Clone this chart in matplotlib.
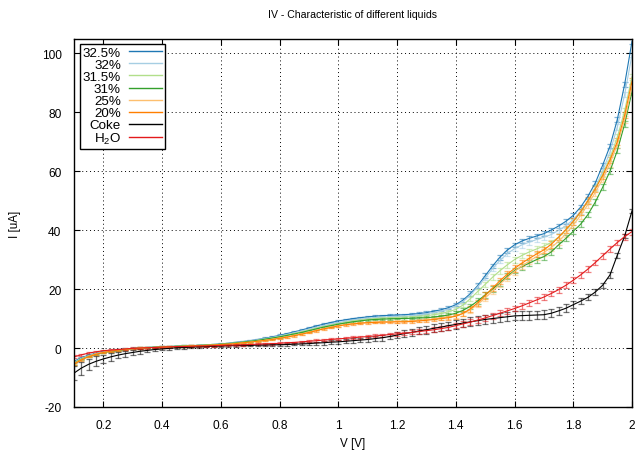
import numpy as np
import matplotlib
matplotlib.use("Agg")
import matplotlib.pyplot as plt
from matplotlib.lines import Line2D
from matplotlib.colors import to_rgba

plt.rcParams["font.family"] = ["Liberation Sans", "DejaVu Sans"]
plt.rcParams["mathtext.fontset"] = "custom"
plt.rcParams["mathtext.rm"] = "Liberation Sans"
plt.rcParams["mathtext.default"] = "regular"
plt.rcParams["axes.unicode_minus"] = False

# Voltage sweep: 0.1 V .. 2.0 V in 25 mV steps (77 points)
voltage = np.round(np.arange(0.1, 2.0 + 1e-9, 0.025), 3)

# Measured current [uA] and its uncertainty, one row per 0.2 V
cur_325 = [-4.5, -3.3, -2.4, -1.8, -1.3, -0.9, -0.6, -0.3,
           -0.1, 0.1, 0.2, 0.3, 0.4, 0.5, 0.6, 0.7,
           0.8, 0.9, 1.0, 1.2, 1.4, 1.6, 1.9, 2.2,
           2.5, 2.9, 3.3, 3.8, 4.3, 4.9, 5.5, 6.1,
           6.8, 7.5, 8.1, 8.7, 9.2, 9.6, 10.0, 10.3,
           10.6, 10.8, 11.0, 11.1, 11.2, 11.3, 11.5, 11.7,
           12.0, 12.5, 13.0, 13.7, 14.7, 16.3, 18.5, 21.2,
           24.5, 27.8, 30.8, 33.2, 35.0, 36.3, 37.2, 38.0,
           38.8, 40.0, 41.4, 43.0, 45.0, 47.8, 51.5, 56.0,
           62.0, 68.5, 77.5, 89.5, 104.0]
err_325 = [0.4, 0.3, 0.3, 0.2, 0.2, 0.2, 0.2, 0.2,
           0.2, 0.2, 0.2, 0.2, 0.2, 0.2, 0.2, 0.2,
           0.2, 0.2, 0.2, 0.2, 0.2, 0.2, 0.2, 0.2,
           0.2, 0.2, 0.3, 0.3, 0.3, 0.3, 0.3, 0.3,
           0.3, 0.3, 0.3, 0.3, 0.3, 0.3, 0.3, 0.3,
           0.3, 0.3, 0.3, 0.3, 0.3, 0.4, 0.4, 0.4,
           0.4, 0.4, 0.5, 0.5, 0.6, 0.6, 0.7, 0.7,
           0.8, 0.8, 0.8, 0.8, 0.8, 0.8, 0.8, 0.8,
           0.8, 0.8, 0.8, 0.8, 0.8, 0.8, 0.8, 0.8,
           0.8, 0.8, 0.8, 0.8, 0.8]

cur_32 = [-4.8, -3.5, -2.6, -1.9, -1.4, -1.0, -0.7, -0.4,
          -0.2, 0.0, 0.2, 0.3, 0.4, 0.5, 0.6, 0.7,
          0.8, 0.9, 1.0, 1.1, 1.3, 1.5, 1.8, 2.1,
          2.4, 2.8, 3.2, 3.6, 4.1, 4.6, 5.2, 5.8,
          6.4, 7.0, 7.6, 8.2, 8.7, 9.1, 9.5, 9.8,
          10.1, 10.3, 10.5, 10.6, 10.7, 10.8, 11.0, 11.2,
          11.6, 12.0, 12.5, 13.2, 14.2, 15.8, 18.0, 20.8,
          23.8, 26.9, 29.7, 32.0, 33.7, 35.0, 35.9, 36.8,
          37.6, 38.5, 39.9, 41.5, 43.6, 46.4, 50.0, 54.5,
          60.0, 66.5, 75.0, 86.0, 99.5]
err_32 = [0.4, 0.3, 0.3, 0.2, 0.2, 0.2, 0.2, 0.2,
          0.2, 0.2, 0.2, 0.2, 0.2, 0.2, 0.2, 0.2,
          0.2, 0.2, 0.2, 0.2, 0.2, 0.2, 0.2, 0.2,
          0.2, 0.2, 0.3, 0.3, 0.3, 0.3, 0.3, 0.3,
          0.3, 0.3, 0.3, 0.3, 0.3, 0.3, 0.3, 0.3,
          0.3, 0.3, 0.3, 0.3, 0.3, 0.4, 0.4, 0.4,
          0.4, 0.4, 0.5, 0.5, 0.6, 0.7, 0.7, 0.8,
          0.8, 0.9, 0.9, 0.9, 0.9, 0.9, 0.9, 0.9,
          0.9, 0.9, 0.9, 0.9, 0.9, 0.9, 0.9, 0.9,
          0.9, 0.9, 0.9, 0.9, 0.9]

cur_315 = [-5.0, -3.7, -2.7, -2.0, -1.5, -1.1, -0.7, -0.4,
           -0.2, 0.0, 0.2, 0.3, 0.4, 0.5, 0.6, 0.7,
           0.8, 0.9, 1.0, 1.1, 1.3, 1.5, 1.7, 2.0,
           2.3, 2.6, 3.0, 3.4, 3.9, 4.4, 4.9, 5.5,
           6.1, 6.7, 7.3, 7.8, 8.3, 8.8, 9.2, 9.5,
           9.8, 10.0, 10.2, 10.3, 10.4, 10.5, 10.6, 10.8,
           11.0, 11.3, 11.7, 12.3, 13.1, 14.6, 16.8, 19.2,
           21.6, 24.0, 26.2, 28.2, 30.0, 31.4, 32.6, 33.6,
           34.6, 35.8, 37.6, 40.0, 42.8, 46.0, 49.8, 54.2,
           59.0, 64.5, 71.5, 80.5, 92.0]
err_315 = [0.4, 0.3, 0.3, 0.3, 0.2, 0.2, 0.2, 0.2,
           0.2, 0.2, 0.2, 0.2, 0.2, 0.2, 0.2, 0.2,
           0.2, 0.2, 0.2, 0.2, 0.2, 0.2, 0.2, 0.2,
           0.2, 0.2, 0.3, 0.3, 0.3, 0.3, 0.3, 0.3,
           0.3, 0.3, 0.3, 0.3, 0.3, 0.3, 0.3, 0.3,
           0.3, 0.3, 0.3, 0.3, 0.3, 0.4, 0.4, 0.4,
           0.4, 0.5, 0.5, 0.6, 0.7, 0.7, 0.8, 0.9,
           0.9, 1.0, 1.0, 1.0, 1.0, 1.0, 1.0, 1.0,
           1.0, 1.0, 1.0, 1.0, 1.0, 1.0, 1.0, 1.0,
           1.0, 1.0, 1.0, 1.0, 1.0]

cur_31 = [-5.2, -3.8, -2.8, -2.1, -1.5, -1.1, -0.8, -0.5,
          -0.2, 0.0, 0.1, 0.3, 0.4, 0.5, 0.6, 0.7,
          0.8, 0.9, 1.0, 1.1, 1.3, 1.5, 1.7, 2.0,
          2.3, 2.6, 3.0, 3.4, 3.8, 4.3, 4.8, 5.3,
          5.9, 6.5, 7.1, 7.6, 8.1, 8.5, 8.9, 9.2,
          9.5, 9.7, 9.8, 9.9, 10.0, 10.0, 10.1, 10.2,
          10.3, 10.5, 10.8, 11.2, 11.8, 12.8, 14.2, 16.0,
          18.0, 20.0, 22.0, 24.3, 26.3, 27.6, 28.8, 30.0,
          31.0, 32.6, 35.0, 37.2, 39.6, 42.0, 45.3, 49.5,
          54.5, 60.0, 67.0, 76.0, 87.0]
err_31 = [0.4, 0.3, 0.3, 0.3, 0.2, 0.2, 0.2, 0.2,
          0.2, 0.2, 0.2, 0.2, 0.2, 0.2, 0.2, 0.2,
          0.2, 0.2, 0.2, 0.2, 0.2, 0.2, 0.2, 0.2,
          0.2, 0.2, 0.3, 0.3, 0.3, 0.3, 0.3, 0.3,
          0.3, 0.3, 0.3, 0.3, 0.3, 0.3, 0.3, 0.3,
          0.3, 0.3, 0.3, 0.3, 0.3, 0.4, 0.4, 0.4,
          0.4, 0.5, 0.5, 0.6, 0.7, 0.7, 0.8, 0.9,
          0.9, 1.0, 1.0, 1.0, 1.0, 1.0, 1.0, 1.0,
          1.0, 1.0, 1.0, 1.0, 1.0, 1.0, 1.0, 1.0,
          1.0, 1.0, 1.0, 1.0, 1.0]

cur_25 = [-5.3, -3.9, -2.8, -2.0, -1.4, -1.0, -0.7, -0.4,
          -0.2, 0.0, 0.1, 0.2, 0.3, 0.4, 0.5, 0.6,
          0.7, 0.8, 0.9, 1.0, 1.2, 1.3, 1.5, 1.8,
          2.0, 2.3, 2.6, 3.0, 3.4, 3.8, 4.3, 4.8,
          5.4, 6.0, 6.6, 7.1, 7.6, 8.0, 8.3, 8.5,
          8.7, 8.8, 8.9, 9.0, 9.0, 9.1, 9.2, 9.4,
          9.6, 9.9, 10.2, 10.5, 10.9, 11.7, 13.0, 14.8,
          17.0, 19.3, 21.7, 23.9, 26.0, 27.8, 29.5, 31.0,
          32.4, 34.1, 36.2, 38.8, 41.7, 45.0, 48.7, 52.8,
          57.3, 62.5, 69.0, 77.5, 88.5]
err_25 = [0.4, 0.3, 0.3, 0.3, 0.2, 0.2, 0.2, 0.2,
          0.2, 0.2, 0.2, 0.2, 0.2, 0.2, 0.2, 0.2,
          0.2, 0.2, 0.2, 0.2, 0.2, 0.2, 0.2, 0.2,
          0.3, 0.3, 0.3, 0.3, 0.3, 0.3, 0.3, 0.3,
          0.3, 0.3, 0.3, 0.3, 0.3, 0.3, 0.3, 0.3,
          0.3, 0.3, 0.3, 0.3, 0.4, 0.4, 0.4, 0.4,
          0.5, 0.5, 0.6, 0.7, 0.8, 0.9, 1.0, 1.0,
          1.1, 1.1, 1.1, 1.1, 1.1, 1.1, 1.1, 1.1,
          1.1, 1.1, 1.1, 1.1, 1.1, 1.1, 1.1, 1.1,
          1.1, 1.1, 1.1, 1.1, 1.1]

cur_20 = [-5.5, -4.0, -2.9, -2.1, -1.5, -1.1, -0.7, -0.4,
          -0.2, 0.0, 0.1, 0.2, 0.3, 0.4, 0.5, 0.6,
          0.7, 0.8, 0.9, 1.0, 1.2, 1.3, 1.5, 1.8,
          2.0, 2.3, 2.6, 2.9, 3.3, 3.7, 4.2, 4.7,
          5.3, 5.9, 6.5, 7.0, 7.5, 7.9, 8.2, 8.4,
          8.6, 8.7, 8.8, 8.8, 8.9, 8.9, 9.0, 9.2,
          9.4, 9.7, 10.0, 10.3, 10.8, 11.8, 13.3, 15.4,
          17.8, 20.3, 22.8, 25.0, 27.0, 28.8, 30.4, 31.9,
          33.3, 35.2, 37.6, 40.2, 43.0, 46.2, 50.0, 54.0,
          58.5, 63.8, 70.0, 79.0, 90.5]
err_20 = [0.4, 0.3, 0.3, 0.3, 0.2, 0.2, 0.2, 0.2,
          0.2, 0.2, 0.2, 0.2, 0.2, 0.2, 0.2, 0.2,
          0.2, 0.2, 0.2, 0.2, 0.2, 0.2, 0.2, 0.2,
          0.3, 0.3, 0.3, 0.3, 0.3, 0.3, 0.3, 0.3,
          0.3, 0.3, 0.3, 0.3, 0.3, 0.3, 0.3, 0.3,
          0.3, 0.3, 0.3, 0.3, 0.4, 0.4, 0.4, 0.4,
          0.5, 0.5, 0.6, 0.7, 0.8, 0.9, 1.0, 1.0,
          1.1, 1.1, 1.1, 1.1, 1.1, 1.1, 1.1, 1.1,
          1.1, 1.1, 1.1, 1.1, 1.1, 1.1, 1.1, 1.1,
          1.1, 1.1, 1.1, 1.1, 1.1]

cur_coke = [-8.5, -6.8, -5.5, -4.5, -3.7, -3.0, -2.4, -1.9,
            -1.5, -1.1, -0.8, -0.5, -0.3, -0.1, 0.1, 0.2,
            0.3, 0.4, 0.5, 0.6, 0.7, 0.8, 0.8, 0.9,
            0.9, 1.0, 1.0, 1.1, 1.1, 1.2, 1.3, 1.4,
            1.5, 1.7, 1.8, 2.0, 2.1, 2.3, 2.5, 2.7,
            2.9, 3.2, 3.5, 3.9, 4.4, 4.9, 5.3, 5.8,
            6.2, 6.7, 7.1, 7.6, 8.0, 8.5, 8.9, 9.3,
            9.7, 10.0, 10.3, 10.6, 10.9, 11.0, 11.1, 11.2,
            11.3, 11.8, 12.6, 13.5, 14.7, 15.9, 17.2, 19.0,
            21.3, 24.8, 31.5, 38.0, 46.5]
err_coke = [2.5, 2.2, 1.9, 1.7, 1.5, 1.3, 1.1, 1.0,
            0.9, 0.8, 0.7, 0.6, 0.5, 0.5, 0.4, 0.4,
            0.4, 0.3, 0.3, 0.3, 0.3, 0.3, 0.3, 0.3,
            0.3, 0.3, 0.3, 0.3, 0.4, 0.4, 0.4, 0.5,
            0.5, 0.5, 0.6, 0.6, 0.7, 0.7, 0.8, 0.8,
            0.9, 0.9, 1.0, 1.0, 1.1, 1.1, 1.2, 1.2,
            1.3, 1.3, 1.4, 1.4, 1.4, 1.5, 1.5, 1.5,
            1.5, 1.5, 1.5, 1.5, 1.5, 1.5, 1.5, 1.5,
            1.5, 1.4, 1.4, 1.3, 1.2, 1.1, 1.0, 1.0,
            0.9, 0.9, 0.8, 0.8, 0.8]

cur_h2o = [-3.0, -2.3, -1.7, -1.3, -0.9, -0.7, -0.5, -0.3,
           -0.1, 0.0, 0.1, 0.2, 0.3, 0.4, 0.5, 0.5,
           0.6, 0.7, 0.7, 0.8, 0.9, 1.0, 1.0, 1.1,
           1.2, 1.3, 1.4, 1.5, 1.6, 1.8, 1.9, 2.1,
           2.3, 2.5, 2.7, 2.9, 3.1, 3.3, 3.5, 3.7,
           3.9, 4.1, 4.3, 4.6, 4.8, 5.0, 5.3, 5.6,
           5.9, 6.2, 6.6, 7.0, 7.6, 8.2, 8.8, 9.5,
           10.2, 11.0, 11.8, 12.6, 13.4, 14.3, 15.3, 16.3,
           17.3, 18.5, 19.8, 21.3, 23.0, 24.8, 26.8, 29.0,
           31.3, 33.6, 35.8, 37.8, 39.5]
err_h2o = [0.5, 0.4, 0.4, 0.3, 0.3, 0.3, 0.3, 0.3,
           0.3, 0.3, 0.3, 0.3, 0.3, 0.3, 0.3, 0.3,
           0.3, 0.3, 0.3, 0.3, 0.3, 0.3, 0.3, 0.3,
           0.3, 0.3, 0.3, 0.3, 0.3, 0.3, 0.3, 0.3,
           0.4, 0.4, 0.4, 0.4, 0.4, 0.5, 0.5, 0.5,
           0.5, 0.5, 0.6, 0.6, 0.6, 0.6, 0.7, 0.7,
           0.7, 0.8, 0.8, 0.8, 0.9, 0.9, 0.9, 1.0,
           1.0, 1.0, 1.0, 1.0, 1.0, 1.0, 1.0, 1.0,
           1.0, 1.0, 1.0, 1.0, 1.0, 1.0, 1.0, 1.0,
           1.0, 1.0, 1.0, 1.0, 1.0]

labels = ["32.5%", "32%", "31.5%", "31%", "25%", "20%", "Coke", "H$_2$O"]
colors = ["#1f78b4", "#a6cee3", "#b2df8a", "#33a02c",
          "#fdbf6f", "#ff7f00", "#000000", "#e31a1c"]
currents = [cur_325, cur_32, cur_315, cur_31, cur_25, cur_20, cur_coke, cur_h2o]
errors = [err_325, err_32, err_315, err_31, err_25, err_20, err_coke, err_h2o]

x_ticks = [0.2, 0.4, 0.6, 0.8, 1.0, 1.2, 1.4, 1.6, 1.8, 2.0]
x_tick_labels = ["0.2", "0.4", "0.6", "0.8", "1", "1.2", "1.4", "1.6", "1.8", "2"]
y_ticks = [-20, 0, 20, 40, 60, 80, 100]

W, H = 636, 452
fig = plt.figure(figsize=(W / 100, H / 100), dpi=100)
ax = fig.add_axes([74 / W, 1 - 408 / H, (632 - 74) / W, (408 - 39.5) / H])

for cur, err, col in zip(currents, errors, colors):
    ax.errorbar(voltage, cur, yerr=err, color=col, lw=0.8,
                ecolor=to_rgba(col, 0.55), elinewidth=0.9,
                capsize=2.4, capthick=0.9)

ax.set_xlim(0.1, 2.0)
ax.set_ylim(-20, 105)
ax.set_xticks(x_ticks)
ax.set_xticklabels(x_tick_labels)
ax.set_yticks(y_ticks)
ax.tick_params(direction="in", length=4, width=0.8, top=True, right=True,
               labelsize=8.6, colors="black")
ax.tick_params(axis="y", pad=9)
ax.tick_params(axis="x", pad=9)
ax.grid(True, color="black", linestyle=(0, (1, 3)), linewidth=0.7)
for sp in ax.spines.values():
    sp.set_linewidth(1.0)
    sp.set_color("black")

fig.text(353 / W, 1 - 15 / H, "IV - Characteristic of different liquids",
         ha="center", va="center", fontsize=7.6)
fig.text(353 / W, 1 - 444 / H, "V [V]", ha="center", va="center", fontsize=8.4)
fig.text(15 / W, 1 - 224 / H, "I [uA]", ha="center", va="center",
         rotation=90, fontsize=8.4)

handles = [Line2D([], [], color=c, lw=1.0) for c in colors]
leg = ax.legend(handles, labels, loc="upper left",
                bbox_to_anchor=(80 / W, 1 - 45 / H),
                bbox_transform=fig.transFigure,
                markerfirst=False, fancybox=False, framealpha=1,
                edgecolor="black", fontsize=9.6, borderpad=0.2,
                labelspacing=-0.02, handlelength=2.5, handletextpad=0.6,
                borderaxespad=0)
leg.get_frame().set_linewidth(1.0)

fig.savefig("out.png", dpi=100)
